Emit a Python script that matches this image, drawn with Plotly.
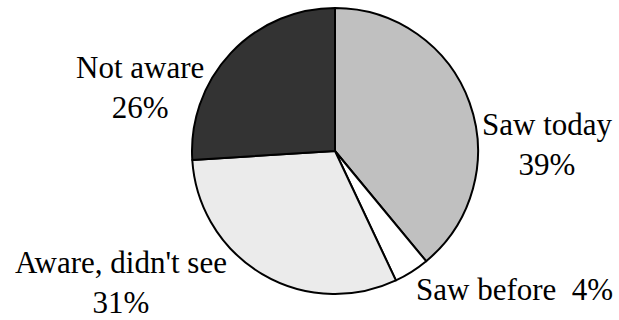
import plotly.graph_objects as go

# Awareness breakdown
categories = ["Saw today", "Saw before", "Aware, didn't see", "Not aware"]
shares = [39, 4, 31, 26]
label_texts = ["Saw today<br>39%", "Saw before  4%", "Aware, didn't see<br>31%", "Not aware<br>26%"]

# light stipple of the third slice rendered as a flat pale grey
fill_colors = ["#c0c0c0", "#ffffff", "#ebebeb", "#333333"]

W, H = 619, 320
cx, cy, r = 335, 151, 143

fig = go.Figure(
    go.Pie(
        labels=categories,
        values=shares,
        sort=False,
        textinfo="none",
        direction="clockwise",
        showlegend=False,
        marker=dict(colors=fill_colors, line=dict(color="#000000", width=2)),
        domain=dict(
            x=[(cx - r) / W, (cx + r) / W],
            y=[(H - cy - r) / H, (H - cy + r) / H],
        ),
    )
)

# Outside labels; anchors follow plotly's automatic paper-edge rule
label_xy = [(0.9935, 0.548), (0.9935, 0.0353), (0.0204, -0.007), (0.1195, 0.849)]
for txt, (ax, ay) in zip(label_texts, label_xy):
    fig.add_annotation(
        x=ax,
        y=ay,
        xref="paper",
        yref="paper",
        text=txt,
        showarrow=False,
        font=dict(family="Liberation Serif", size=31, color="#000"),
    )

fig.update_layout(width=W, height=H, margin=dict(l=0, r=0, t=0, b=0))
fig.write_html("out.html")
